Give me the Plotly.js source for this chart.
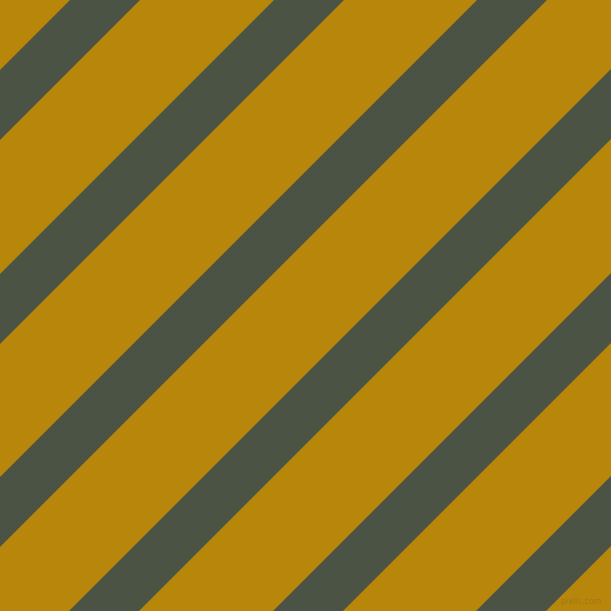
<!DOCTYPE html>
<html>
<head>
<meta charset="utf-8">
<script src="https://cdn.plot.ly/plotly-3.0.1.min.js"></script>
<style>
  html, body { margin: 0; padding: 0; background: #b8860a; }
  #chart { width: 611px; height: 611px; }
</style>
</head>
<body>
<div id="chart"></div>
<script>
// each stripe is the band where x + y lies between start and start + width
var stripeStart = [70, 274, 477, 680, 884, 1087];
var stripeWidth = [70, 70, 70, 70, 70, 70];

var gold = '#b8860a';
var slate = '#4b5444';

var traces = stripeStart.map(function (c0, i) {
  var c1 = c0 + stripeWidth[i];
  return {
    x: [c0, 0, 0, c1, c0],
    y: [0, c0, c1, 0, 0],
    type: 'scatter',
    mode: 'lines',
    fill: 'toself',
    fillcolor: slate,
    line: {width: 0, color: slate},
    hoverinfo: 'skip',
    showlegend: false
  };
});

var layout = {
  width: 611,
  height: 611,
  margin: {l: 0, r: 0, t: 0, b: 0},
  paper_bgcolor: gold,
  plot_bgcolor: gold,
  xaxis: {range: [0, 611], visible: false, fixedrange: true},
  yaxis: {range: [611, 0], visible: false, fixedrange: true},
  annotations: [{
    text: 'pixlis.com',
    x: 1, y: 0, xref: 'paper', yref: 'paper',
    xanchor: 'right', yanchor: 'bottom',
    xshift: -8, yshift: 3,
    showarrow: false,
    font: {family: 'DejaVu Sans', size: 8, color: '#a37a14'}
  }]
};

Plotly.newPlot('chart', traces, layout, {staticPlot: true, displayModeBar: false});
</script>
</body>
</html>
